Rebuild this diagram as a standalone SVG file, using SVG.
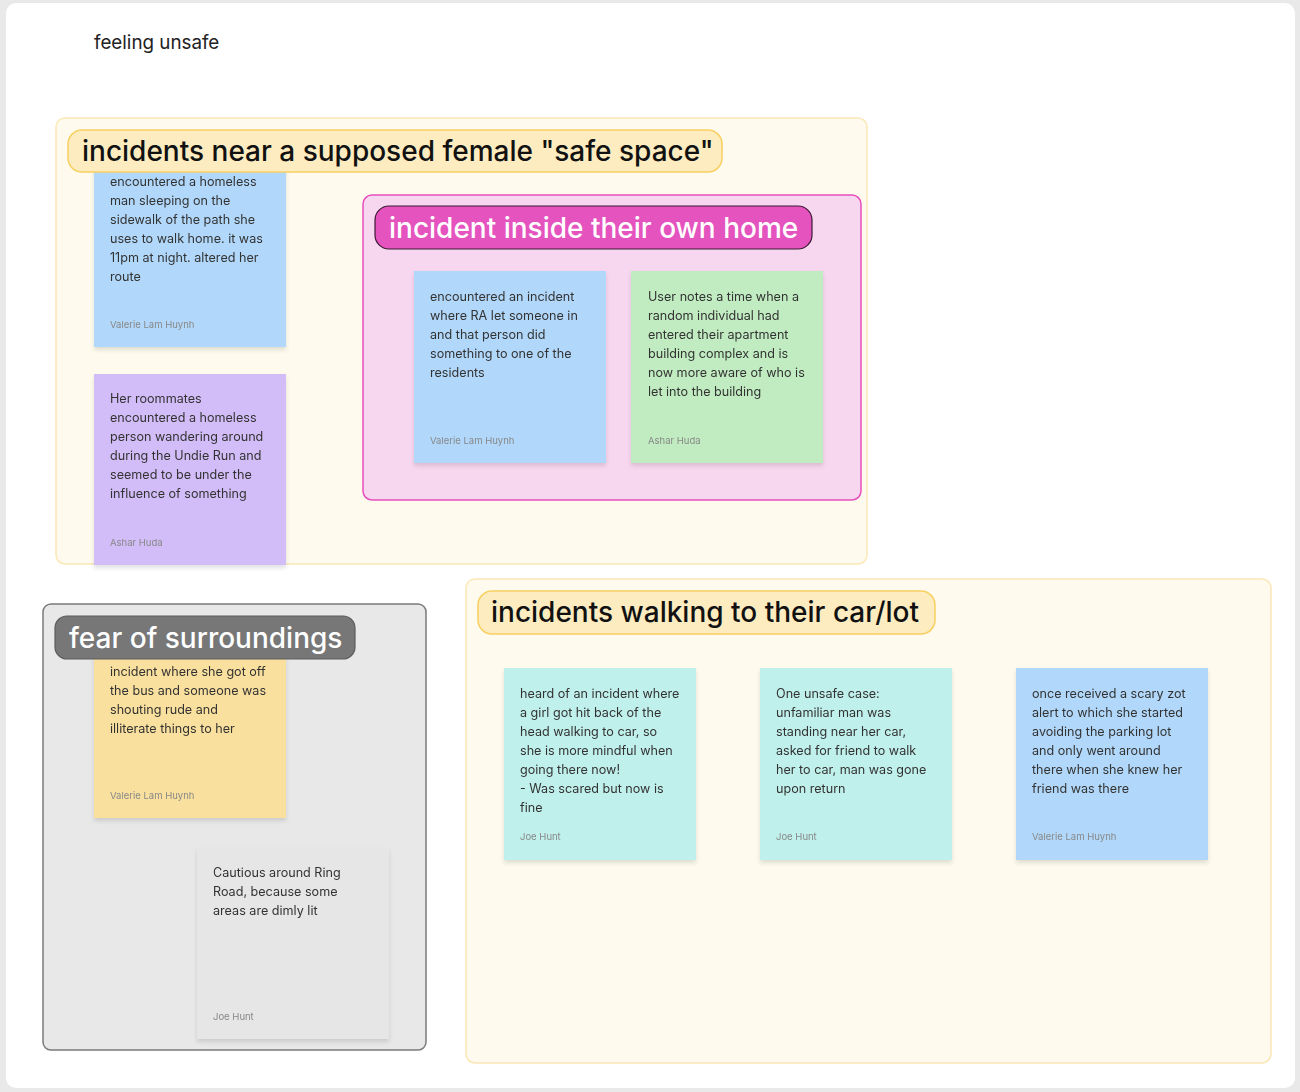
<svg xmlns="http://www.w3.org/2000/svg" width="1300" height="1092" viewBox="0 0 1300 1092">
<defs>
<filter id="sh" x="-10%" y="-10%" width="120%" height="125%">
<feDropShadow dx="0" dy="3" stdDeviation="2" flood-color="#000" flood-opacity="0.12"/>
</filter>
<style>
text{font-family:Inter,"Noto Sans","Liberation Sans",sans-serif}
.sec{fill:#fefbee;stroke:#fbe8b6;stroke-width:1.5}
.lbl{fill:#fcecc0;stroke:#f8d062;stroke-width:1.5}
.lt{font-size:28px;font-weight:500;fill:#111}
.st{font-size:12.6px;fill:#333}
.au{font-size:9.5px;fill:#888}
</style>
</defs>
<rect x="0" y="0" width="1300" height="1092" fill="#e9e9e9"/>
<rect x="6" y="3" width="1289" height="1085" rx="10" fill="#ffffff"/>
<text x="94" y="49" font-size="18.8" fill="#222">feeling unsafe</text>

<g id="section-safe-space">
<rect class="sec" x="56" y="118" width="811" height="446" rx="9"/>
</g>
<g id="sticky-homeless-man" filter="url(#sh)">
<rect x="94" y="160" width="192" height="187" fill="#b1d8fa"/>
<text class="st" x="110" y="186">encountered a homeless</text>
<text class="st" x="110" y="205">man sleeping on the</text>
<text class="st" x="110" y="224">sidewalk of the path she</text>
<text class="st" x="110" y="243">uses to walk home. it was</text>
<text class="st" x="110" y="262">11pm at night. altered her</text>
<text class="st" x="110" y="281">route</text>
<text class="au" x="110" y="328">Valerie Lam Huynh</text>
</g>
<g id="label-safe-space">
<rect class="lbl" x="68" y="130" width="654" height="42" rx="14"/>
<text class="lt" x="82" y="161">incidents near a supposed female "safe space"</text>
</g>
<g id="sticky-roommates" filter="url(#sh)">
<rect x="94" y="374" width="192" height="191" fill="#d2bdf8"/>
<text class="st" x="110" y="403">Her roommates</text>
<text class="st" x="110" y="422">encountered a homeless</text>
<text class="st" x="110" y="441">person wandering around</text>
<text class="st" x="110" y="460">during the Undie Run and</text>
<text class="st" x="110" y="479">seemed to be under the</text>
<text class="st" x="110" y="498">influence of something</text>
<text class="au" x="110" y="546">Ashar Huda</text>
</g>

<g id="section-home">
<rect x="363" y="195" width="498" height="305" rx="9" fill="#f7d7ef" stroke="#e64fbd" stroke-width="1.5"/>
</g>
<g id="label-home">
<rect x="375" y="206" width="437" height="43" rx="14" fill="#e553bf" stroke="#3b1a33" stroke-width="1.2"/>
<text class="lt" x="389" y="238" style="fill:#fff">incident inside their own home</text>
</g>
<g id="sticky-ra" filter="url(#sh)">
<rect x="414" y="271" width="192" height="192" fill="#b1d8fa"/>
<text class="st" x="430" y="301">encountered an incident</text>
<text class="st" x="430" y="320">where RA let someone in</text>
<text class="st" x="430" y="339">and that person did</text>
<text class="st" x="430" y="358">something to one of the</text>
<text class="st" x="430" y="377">residents</text>
<text class="au" x="430" y="444">Valerie Lam Huynh</text>
</g>
<g id="sticky-apartment" filter="url(#sh)">
<rect x="631" y="271" width="192" height="192" fill="#c1ecc1"/>
<text class="st" x="648" y="301">User notes a time when a</text>
<text class="st" x="648" y="320">random individual had</text>
<text class="st" x="648" y="339">entered their apartment</text>
<text class="st" x="648" y="358">building complex and is</text>
<text class="st" x="648" y="377">now more aware of who is</text>
<text class="st" x="648" y="396">let into the building</text>
<text class="au" x="648" y="444">Ashar Huda</text>
</g>

<g id="section-surroundings">
<rect x="43" y="604" width="383" height="446" rx="8" fill="#e8e8e8" stroke="#7a7a7a" stroke-width="1.5"/>
</g>
<g id="sticky-bus" filter="url(#sh)">
<rect x="94" y="650" width="192" height="168" fill="#f9e09e"/>
<text class="st" x="110" y="676">incident where she got off</text>
<text class="st" x="110" y="695">the bus and someone was</text>
<text class="st" x="110" y="714">shouting rude and</text>
<text class="st" x="110" y="733">illiterate things to her</text>
<text class="au" x="110" y="799">Valerie Lam Huynh</text>
</g>
<g id="label-surroundings">
<rect x="55" y="616" width="300" height="43" rx="12" fill="#777777" stroke="#5c5c5c" stroke-width="1.2"/>
<text class="lt" x="69" y="648" style="fill:#fff">fear of surroundings</text>
</g>
<g id="sticky-ring-road" filter="url(#sh)">
<rect x="197" y="848" width="192" height="191" fill="#e6e6e6"/>
<text class="st" x="213" y="877">Cautious around Ring</text>
<text class="st" x="213" y="896">Road, because some</text>
<text class="st" x="213" y="915">areas are dimly lit</text>
<text class="au" x="213" y="1020">Joe Hunt</text>
</g>

<g id="section-car">
<rect class="sec" x="466" y="579" width="805" height="484" rx="9"/>
</g>
<g id="label-car">
<rect class="lbl" x="478" y="591" width="457" height="43" rx="14"/>
<text class="lt" x="491" y="622">incidents walking to their car/lot</text>
</g>
<g id="sticky-hit" filter="url(#sh)">
<rect x="504" y="668" width="192" height="192" fill="#c0f0ec"/>
<text class="st" x="520" y="698">heard of an incident where</text>
<text class="st" x="520" y="717">a girl got hit back of the</text>
<text class="st" x="520" y="736">head walking to car, so</text>
<text class="st" x="520" y="755">she is more mindful when</text>
<text class="st" x="520" y="774">going there now!</text>
<text class="st" x="520" y="793">- Was scared but now is</text>
<text class="st" x="520" y="812">fine</text>
<text class="au" x="520" y="840">Joe Hunt</text>
</g>
<g id="sticky-unfamiliar-man" filter="url(#sh)">
<rect x="760" y="668" width="192" height="192" fill="#c0f0ec"/>
<text class="st" x="776" y="698">One unsafe case:</text>
<text class="st" x="776" y="717">unfamiliar man was</text>
<text class="st" x="776" y="736">standing near her car,</text>
<text class="st" x="776" y="755">asked for friend to walk</text>
<text class="st" x="776" y="774">her to car, man was gone</text>
<text class="st" x="776" y="793">upon return</text>
<text class="au" x="776" y="840">Joe Hunt</text>
</g>
<g id="sticky-zot-alert" filter="url(#sh)">
<rect x="1016" y="668" width="192" height="192" fill="#b1d8fa"/>
<text class="st" x="1032" y="698">once received a scary zot</text>
<text class="st" x="1032" y="717">alert to which she started</text>
<text class="st" x="1032" y="736">avoiding the parking lot</text>
<text class="st" x="1032" y="755">and only went around</text>
<text class="st" x="1032" y="774">there when she knew her</text>
<text class="st" x="1032" y="793">friend was there</text>
<text class="au" x="1032" y="840">Valerie Lam Huynh</text>
</g>
<g id="connectors"></g>
</svg>
